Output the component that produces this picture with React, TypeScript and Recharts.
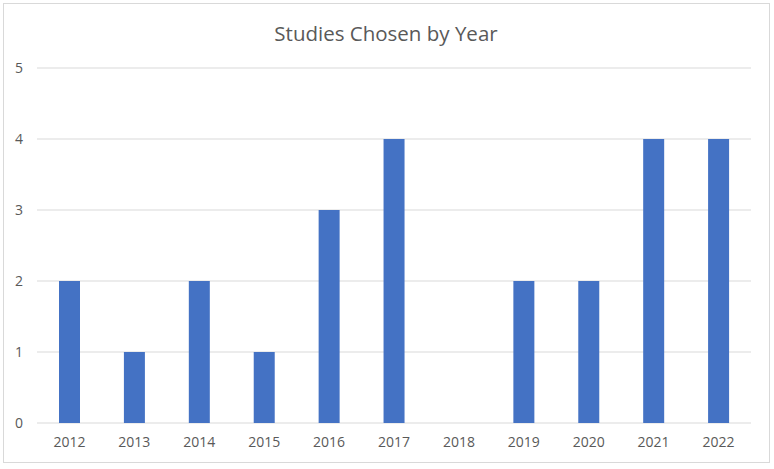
import { BarChart, Bar, XAxis, YAxis, CartesianGrid } from 'recharts';

const years = ['2012', '2013', '2014', '2015', '2016', '2017', '2018', '2019', '2020', '2021', '2022'];
const studies = [2, 1, 2, 1, 3, 4, 0, 2, 2, 4, 4];
const yTicks = [0, 1, 2, 3, 4, 5];

const data = years.map((year, i) => ({ year, studies: studies[i] }));

const font = '"Open Sans", sans-serif';
const textColor = '#595959';

export default function App() {
  return (
    <div style={{ position: 'absolute', left: 0, top: 0, width: 774, height: 469, background: '#fff', fontFamily: font }}>
      <div
        style={{
          position: 'absolute',
          left: 3,
          top: 3,
          width: 767,
          height: 460,
          border: '1px solid #d9d9d9',
          boxSizing: 'border-box',
        }}
      />
      <div
        style={{
          position: 'absolute',
          left: 0,
          top: 19,
          width: 772,
          textAlign: 'center',
          fontSize: 20.5,
          color: textColor,
          lineHeight: '28px',
        }}
      >
        Studies Chosen by Year
      </div>
      <BarChart
        width={774}
        height={469}
        data={data}
        margin={{ top: 68, right: 23, bottom: 16, left: 0 }}
        style={{ position: 'absolute', left: 0, top: 0 }}
      >
        <CartesianGrid vertical={false} stroke="#d9d9d9" strokeWidth={1} />
        <XAxis
          dataKey="year"
          axisLine={false}
          tickLine={false}
          tickSize={0}
          tickMargin={14}
          height={30}
          interval={0}
          tick={{ fill: textColor, fontSize: 14, fontFamily: font }}
        />
        <YAxis
          domain={[0, 5]}
          ticks={yTicks}
          width={37}
          axisLine={false}
          tickLine={false}
          tickSize={0}
          tickMargin={14}
          tick={{ fill: textColor, fontSize: 14, fontFamily: font }}
        />
        <Bar dataKey="studies" fill="#4472C4" barSize={21} isAnimationActive={false} />
      </BarChart>
    </div>
  );
}
